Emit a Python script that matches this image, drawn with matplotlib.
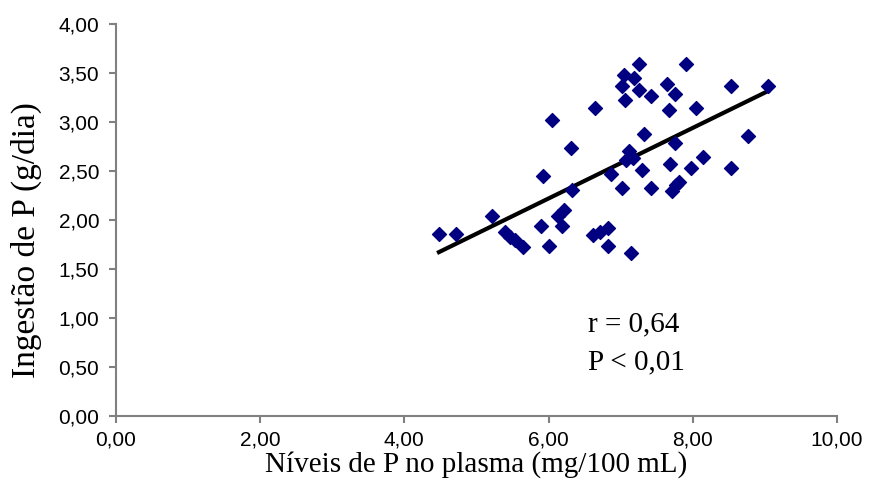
import numpy as np
import matplotlib.pyplot as plt

# plasma P (mg/100 mL) vs P intake (g/day)
plasma = [4.48, 4.72, 5.22, 5.39, 5.46, 5.53, 5.65, 5.89, 6.00, 5.92,
          6.05, 6.31, 6.33, 6.13, 6.21, 6.19, 6.64, 6.62, 6.71, 6.82,
          6.83, 6.87, 7.25, 7.91, 7.05, 7.19, 7.02, 7.25, 7.42, 7.06,
          7.64, 7.75, 7.67, 8.05, 8.53, 9.05, 7.33, 8.77, 7.76, 7.11,
          7.08, 7.17, 8.14, 7.69, 7.97, 8.53, 7.30, 7.02, 7.42, 7.81,
          7.77, 7.72, 7.14]
intake = [1.86, 1.86, 2.04, 1.88, 1.83, 1.80, 1.72, 1.94, 1.73, 2.45,
          3.02, 2.74, 2.31, 2.04, 2.10, 1.94, 3.14, 1.85, 1.88, 1.92,
          1.73, 2.47, 3.59, 3.59, 3.48, 3.45, 3.37, 3.33, 3.27, 3.23,
          3.39, 3.29, 3.12, 3.14, 3.37, 3.37, 2.88, 2.86, 2.79, 2.71,
          2.61, 2.63, 2.64, 2.57, 2.53, 2.53, 2.51, 2.33, 2.33, 2.39,
          2.36, 2.30, 1.66]

xticks = [0, 2, 4, 6, 8, 10]
yticks = [0, 0.5, 1, 1.5, 2, 2.5, 3, 3.5, 4]
fmt = lambda v: f"{v:.2f}".replace(".", ",")

fig = plt.figure(figsize=(8.69, 4.96), dpi=100)
ax = fig.add_axes([0.1335, 0.1619, 0.963 - 0.1335, 0.951 - 0.1619])

ax.scatter(plasma, intake, marker="D", s=50, color="#000080", zorder=3)

# linear fit over the range of the data
k, b = np.polyfit(plasma, intake, 1)
xs = np.array([min(plasma), max(plasma)])
ax.plot(xs, k * xs + b, color="black", lw=3, zorder=2)

ax.set_xlim(0, 10)
ax.set_ylim(0, 4)
ax.set_xticks(xticks)
ax.set_xticklabels([fmt(v) for v in xticks])
ax.set_yticks(yticks)
ax.set_yticklabels([fmt(v) for v in yticks])

for s in ["top", "right"]:
    ax.spines[s].set_visible(False)
for s in ["left", "bottom"]:
    ax.spines[s].set_color("#808080")
    ax.spines[s].set_linewidth(1.5)
ax.tick_params(direction="out", length=5, width=1.5, color="#808080",
               labelsize=15)
ax.tick_params(axis="y", pad=7)
ax.tick_params(axis="x", pad=6)
for lab in ax.get_xticklabels() + ax.get_yticklabels():
    lab.set_family("Liberation Sans")

ax.set_xlabel("Níveis de P no plasma (mg/100 mL)", family="Liberation Serif",
              fontsize=21)
ax.xaxis.set_label_coords(0.5, -0.09)
ax.set_ylabel("Ingestão de P (g/dia)", family="Liberation Serif",
              fontsize=24)
ax.yaxis.set_label_coords(-0.103, 0.45)

ax.text(6.55, 0.93, "r = 0,64", family="Liberation Serif", fontsize=21,
        va="center")
ax.text(6.55, 0.54, "P < 0,01", family="Liberation Serif", fontsize=21,
        va="center")

fig.savefig("out.png", dpi=100)
